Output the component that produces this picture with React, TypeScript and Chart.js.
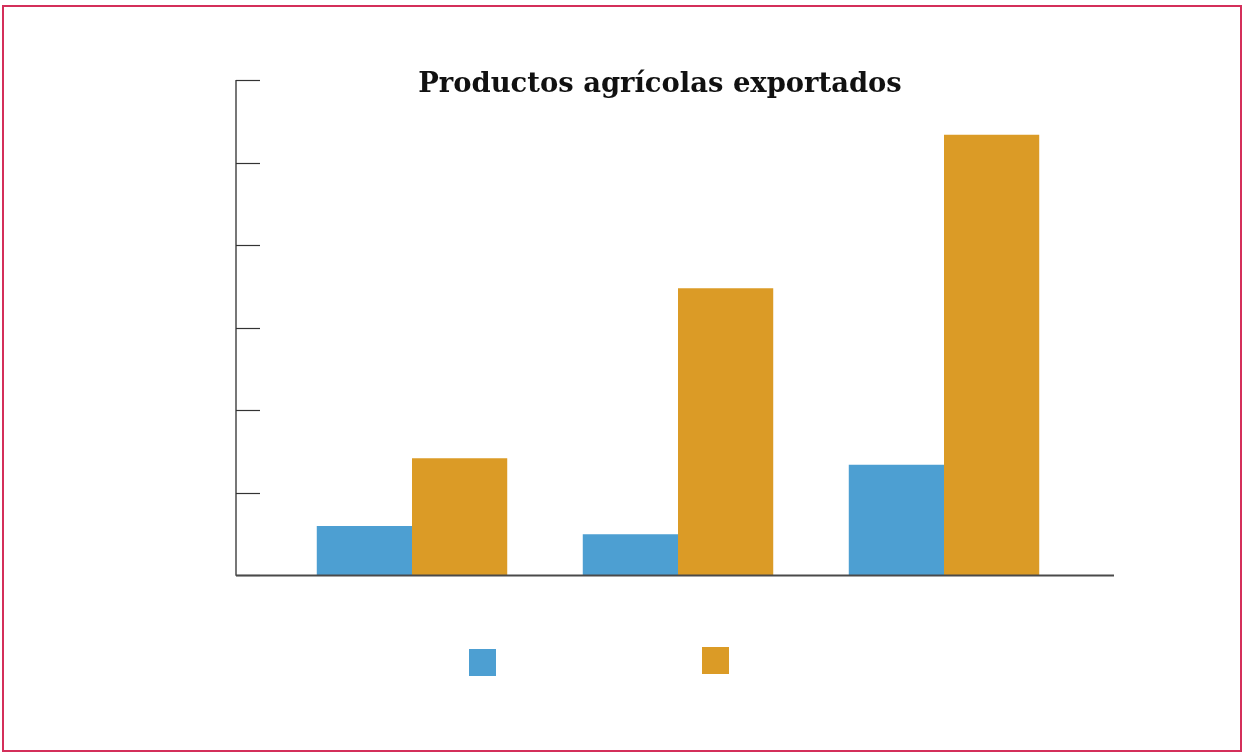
import React, { useEffect, useRef } from "react";
import { Chart, registerables } from "chart.js";

Chart.register(...registerables);

const title = "Productos agrícolas exportados";
const categories = ["A", "B", "C"];
const seriesA = [11.9, 9.9, 26.7];
const seriesB = [28.3, 69.5, 106.7];
const yMax = 120;
const yStep = 20;

const BLUE = "#4d9fd2";
const ORANGE = "#db9b26";

const overlay = {
  id: "overlay",
  afterDraw(chart: any) {
    const ctx = chart.ctx;
    const y = chart.scales.y;
    const axisX = 236;
    const zeroY = y.getPixelForValue(0);
    const topY = y.getPixelForValue(yMax);
    ctx.save();
    ctx.strokeStyle = "#4a4a4a";
    ctx.lineWidth = 1.5;
    ctx.beginPath();
    ctx.moveTo(axisX, topY);
    ctx.lineTo(axisX, zeroY + 0.75);
    ctx.stroke();
    ctx.lineWidth = 1.2;
    ctx.strokeStyle = "#333";
    y.ticks.forEach((t: any) => {
      const py = Math.round(y.getPixelForValue(t.value)) + 0.5;
      ctx.beginPath();
      ctx.moveTo(axisX, py);
      ctx.lineTo(260, py);
      ctx.stroke();
    });
    ctx.strokeStyle = "#4a4a4a";
    ctx.lineWidth = 1.8;
    ctx.beginPath();
    ctx.moveTo(axisX, zeroY + 0.5);
    ctx.lineTo(1114, zeroY + 0.5);
    ctx.stroke();
    // title
    ctx.fillStyle = "#111";
    ctx.font = "bold 30px 'DejaVu Serif', serif";
    const w = ctx.measureText(title).width;
    const size = Math.max(20, Math.min(40, 30 * 484 / w));
    ctx.font = `bold ${size.toFixed(1)}px 'DejaVu Serif', serif`;
    ctx.textAlign = "center";
    ctx.textBaseline = "alphabetic";
    ctx.fillText(title, 660, 92);
    // legend boxes
    const ds = chart.data.datasets;
    ctx.fillStyle = ds[0].backgroundColor;
    ctx.fillRect(469, 649, 27, 27);
    ctx.fillStyle = ds[1].backgroundColor;
    ctx.fillRect(702, 647, 27, 27);
    ctx.restore();
  },
};

export default function App() {
  const ref = useRef<HTMLCanvasElement | null>(null);
  useEffect(() => {
    if (!ref.current) return;
    const chart = new Chart(ref.current, {
      type: "bar",
      data: {
        labels: categories,
        datasets: [
          { label: "", data: seriesA, backgroundColor: BLUE, borderWidth: 0 },
          { label: "", data: seriesB, backgroundColor: ORANGE, borderWidth: 0 },
        ],
      },
      options: {
        animation: false,
        responsive: false,
        layout: { padding: { left: 279, right: 166, top: 80, bottom: 178 } },
        plugins: {
          legend: { display: false },
          title: { display: false },
          tooltip: { enabled: false },
        },
        datasets: { bar: { categoryPercentage: 0.716, barPercentage: 1.0 } },
        scales: {
          x: { display: false, offset: true },
          y: { display: false, min: 0, max: yMax, ticks: { stepSize: yStep } },
        },
      },
      plugins: [overlay],
    });
    return () => chart.destroy();
  }, []);
  return (
    <div style={{ position: "fixed", left: 0, top: 0, width: 1243, height: 753, background: "#fff" }}>
      <div
        style={{
          position: "absolute",
          left: 2,
          top: 5,
          width: 1240,
          height: 747,
          border: "2px solid #d42f5a",
          boxSizing: "border-box",
        }}
      />
      <canvas ref={ref} width={1243} height={753} style={{ position: "absolute", left: 0, top: 0, width: 1243, height: 753 }} />
    </div>
  );
}
